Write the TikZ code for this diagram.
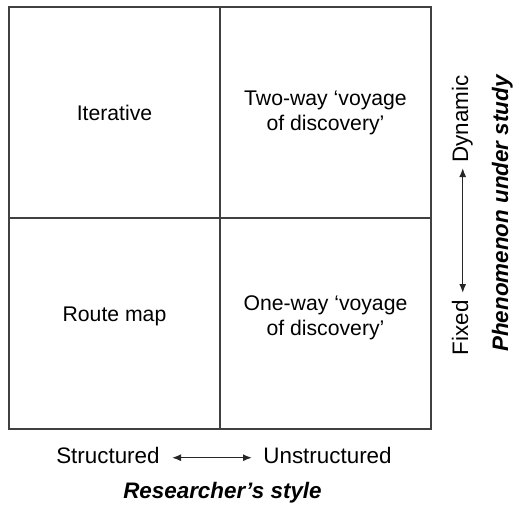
\documentclass[tikz,border=0pt]{standalone}
\usepackage{fontspec}
\setmainfont{Liberation Sans}
\usetikzlibrary{positioning,arrows.meta}
\tikzset{>={Latex[length=4.5pt,width=3.5pt]}}
\tikzset{
  cell/.style  = {align=center, font=\fontsize{10.6}{12.5}\selectfont},
  axis/.style  = {font=\fontsize{11.2}{13}\selectfont, inner sep=0pt},
  title/.style = {font=\fontsize{11.2}{13}\selectfont\bfseries\itshape, inner sep=0pt},
  grid/.style  = {line width=1pt, black!75},
  span/.style  = {<->, line width=0.7pt, black!85}
}

\begin{document}
\begin{tikzpicture}[x=0.5pt,y=-0.5pt]
  \useasboundingbox (0,0) rectangle (513,504);
  % the four cells
  \draw[grid] (9,7) rectangle (431,429);
  \draw[grid] (220,7) -- (220,429);
  \draw[grid] (9,218) -- (431,218);
  \node[cell] (iter)   at (114.5,113) {Iterative};
  \node[cell] (twoway) at (325.5,112.5) {Two-way `voyage\\of discovery'};
  \node[cell] (route)  at (114.5,316) {Route map};
  \node[cell] (oneway) at (325.5,318) {One-way `voyage\\of discovery'};
  % researcher's style
  \node[axis, anchor=base east] (struct)   at (160,463) {Structured};
  \node[axis, anchor=base west] (unstruct) at (263,463) {Unstructured};
  \draw[span, shorten <=6pt, shorten >=5.5pt] (struct.mid east) -- (unstruct.mid west);
  \node[title, anchor=base] (style) at (222.5,498) {Researcher’s style};
  % phenomenon under study
  \node[axis, rotate=90, anchor=base east] (fixed) at (468,300) {Fixed};
  \node[axis, rotate=90, anchor=base west] (dyn)   at (468,163) {Dynamic};
  \draw[span, shorten <=3.5pt, shorten >=2.5pt] (fixed.mid east) -- (dyn.mid west);
  \node[title, rotate=90, anchor=base] (phen) at (508,213.5) {Phenomenon under study};
\end{tikzpicture}
\end{document}
